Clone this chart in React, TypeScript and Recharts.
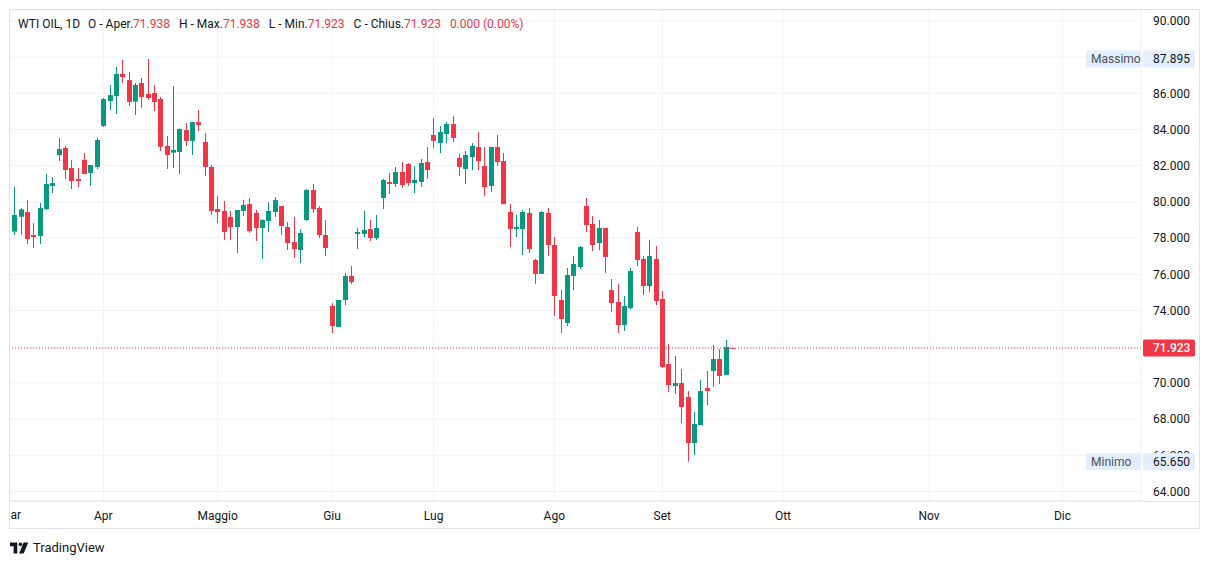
import { Bar, CartesianGrid, ComposedChart, ReferenceLine, XAxis, YAxis } from "recharts";

// WTI OIL, 1D — candele (mar–set)
const opens = [
  78.36, 79.18, 79.44, 78.17, 78.12, 79.61, 80.88, 82.59, 82.98, 81.87,
  81.26, 82.32, 81.6, 81.93, 84.19, 85.57, 85.85, 87.07, 86.73, 85.54,
  86.57, 85.96, 86.02, 85.69, 83.09, 82.72, 82.76, 83.97, 83.37, 84.41,
  83.31, 81.93, 79.61, 79.5, 79.17, 78.61, 79.5, 79.88, 79.39, 78.56,
  78.94, 79.44, 79.77, 78.61, 77.78, 77.34, 79.0, 80.66, 79.66, 78.17,
  74.25, 73.09, 74.58, 75.91, 78.23, 78.23, 78.5, 78.0, 80.22, 81.1,
  80.99, 81.65, 82.09, 81.04, 81.1, 82.2, 83.7, 83.25, 83.75, 84.3,
  82.43, 81.82, 82.48, 83.03, 81.98, 80.88, 83.03, 82.26, 79.44, 78.5,
  78.5, 79.39, 76.79, 76.02, 79.39, 77.62, 74.58, 73.31, 75.91, 76.4,
  79.77, 78.78, 77.73, 78.56, 75.13, 74.47, 73.2, 74.14, 78.34, 76.85,
  75.35, 76.85, 74.64, 71.04, 69.83, 69.99, 69.22, 66.68, 67.67, 69.72,
  70.66, 71.32, 70.44, 71.938,
];
const highs = [
  80.84, 79.66, 80.1, 78.83, 79.94, 81.54, 81.37, 83.53, 83.09, 82.32,
  81.87, 82.7, 82.04, 83.53, 85.74, 86.46, 87.45, 87.84, 87.18, 86.57,
  86.85, 87.895, 86.46, 85.8, 83.64, 86.4, 84.06, 84.36, 84.41, 85.08,
  83.81, 82.04, 80.33, 80.05, 79.5, 79.55, 80.1, 80.22, 79.55, 79.05,
  79.99, 80.27, 79.77, 78.89, 79.17, 78.5, 80.71, 80.99, 79.77, 79.0,
  74.41, 74.58, 76.07, 76.46, 78.56, 79.5, 79.0, 79.28, 81.27, 81.6,
  81.93, 82.2, 82.15, 81.98, 82.37, 83.03, 84.64, 84.19, 84.41, 84.75,
  82.65, 82.81, 83.25, 83.86, 83.03, 83.05, 83.7, 82.7, 79.88, 79.28,
  79.55, 79.66, 76.85, 79.5, 79.66, 78.06, 75.13, 76.35, 77.01, 77.56,
  80.22, 79.22, 79.0, 78.56, 75.74, 75.46, 74.8, 76.35, 78.61, 77.01,
  77.9, 77.56, 75.08, 72.15, 71.49, 70.77, 69.55, 68.39, 70.16, 70.66,
  72.09, 71.87, 72.37, 71.938,
];
const lows = [
  78.17, 78.17, 77.67, 77.45, 77.67, 79.55, 80.49, 82.26, 81.27, 80.71,
  80.82, 81.54, 80.88, 81.82, 84.14, 85.08, 84.86, 86.57, 85.3, 84.8,
  85.19, 85.63, 85.02, 82.81, 81.82, 81.87, 81.54, 83.09, 82.59, 83.92,
  81.43, 79.28, 78.83, 77.9, 77.9, 77.18, 79.22, 78.3, 77.84, 76.85,
  78.34, 79.17, 78.17, 77.34, 76.9, 76.62, 78.94, 79.39, 78.01, 77.01,
  72.76, 73.09, 74.3, 75.46, 77.4, 78.06, 77.84, 77.9, 79.61, 80.44,
  80.82, 80.77, 80.88, 80.49, 80.82, 81.27, 82.98, 82.7, 83.25, 83.31,
  81.43, 80.99, 81.76, 81.76, 80.33, 80.55, 81.98, 79.88, 77.51, 78.06,
  77.07, 77.18, 75.46, 76.02, 77.01, 73.7, 72.76, 73.14, 75.13, 76.29,
  78.34, 77.29, 77.34, 76.07, 73.92, 72.76, 72.87, 74.08, 76.46, 74.86,
  75.02, 74.3, 70.82, 69.5, 69.39, 67.78, 65.65, 66.02, 67.67, 68.78,
  69.77, 69.94, 70.44, 71.923,
];
const closes = [
  79.28, 79.59, 77.95, 78.06, 79.66, 80.99, 81.04, 82.92, 81.76, 81.15,
  81.15, 81.54, 82.04, 83.42, 85.68, 85.9, 87.07, 86.9, 85.52, 86.46,
  85.8, 85.74, 85.52, 83.05, 82.59, 82.87, 84.03, 83.37, 84.41, 84.25,
  81.93, 79.5, 79.44, 78.34, 78.61, 79.55, 79.83, 78.39, 78.56, 79.0,
  79.5, 80.1, 78.67, 77.73, 77.4, 78.28, 80.66, 79.61, 78.17, 77.45,
  73.14, 74.58, 75.91, 75.57, 78.34, 78.45, 78.0, 78.56, 81.21, 80.99,
  81.65, 80.93, 81.04, 81.21, 82.15, 81.76, 83.37, 83.86, 84.3, 83.53,
  81.93, 82.59, 83.09, 82.26, 80.82, 83.03, 82.2, 79.88, 78.5, 78.61,
  79.44, 77.4, 76.02, 79.44, 77.62, 74.8, 73.53, 75.96, 76.57, 77.51,
  78.72, 77.62, 78.56, 76.96, 74.41, 73.2, 74.25, 76.18, 76.79, 75.35,
  77.01, 74.52, 70.88, 69.88, 69.99, 68.67, 66.68, 67.73, 69.55, 69.55,
  71.32, 70.38, 71.98, 71.923,
];

// Etichette del tempo: indice della prima candela del mese (ott–dic proiettati)
const monthBars = [14, 32, 50, 66, 85, 102, 121, 144, 165];
const monthLabels = ["Apr", "Maggio", "Giu", "Lug", "Ago", "Set", "Ott", "Nov", "Dic"];
const priceTicks = [64, 66, 68, 70, 72, 74, 76, 78, 80, 82, 84, 86, 88, 90];

const symbol = "WTI OIL, 1D";
const changeText = "0.000 (0.00%)";

const UP = "#089981";
const DOWN = "#f23645";
const TEXT = "#131722";
const GRID = "#f0f3fa";
const BORDER = "#e0e3eb";
const TAG_BG = "#e3effd";
const FONT = "Roboto, 'Noto Sans', sans-serif";

const X_DOMAIN: [number, number] = [-0.693, 177.36];
const Y_DOMAIN: [number, number] = [63.475, 90.602];
const CHART_W = 1200;
const CHART_H = 529;
const MARGIN = { top: 10, right: 0, bottom: 0, left: 10 };

const rows = opens.map((o, i) => ({
  i,
  wick: [lows[i], highs[i]],
  body: [Math.min(o, closes[i]), Math.max(o, closes[i])],
  color: closes[i] < o ? DOWN : UP,
}));
const last = rows.length - 1;
const maxHigh = Math.max(...highs);
const minLow = Math.min(...lows);
const lastColor = rows[last].color;

const fmt = (v: number) => v.toFixed(3);
const monthName = (v: number) => monthLabels[monthBars.indexOf(v)] ?? "";

function Wick(props: any) {
  const { x, y, width, height, payload } = props;
  const cx = Math.floor(x + width / 2);
  return <rect x={cx} y={y} width={1} height={Math.max(height, 1)} fill={payload.color} />;
}

function Body(props: any) {
  const { x, y, width, height, payload } = props;
  const cx = Math.floor(x + width / 2);
  return <rect x={cx - 2} y={y} width={5} height={Math.max(height, 1)} fill={payload.color} />;
}

function Tag(props: any) {
  const { viewBox, text, caption, bg, fg, weight } = props;
  const right = viewBox.x + viewBox.width;
  const cy = viewBox.y;
  return (
    <g fontFamily={FONT} fontSize={12}>
      {caption ? (
        <>
          <rect x={right - 55} y={cy - 8.5} width={55} height={17} rx={2} fill={bg} />
          <text x={right - 50} y={cy} dy="0.355em" fill="#4c525e">{caption}</text>
        </>
      ) : null}
      <rect x={right + 2} y={cy - 8.5} width={52} height={17} rx={2} fill={bg} />
      <text x={right + 12} y={cy} dy="0.355em" fill={fg} fontWeight={weight}>{text}</text>
    </g>
  );
}

function Logo() {
  return (
    <svg width={20} height={12} viewBox="0 0 22 12">
      <path d="M0 0h8v12H4V4H0z" fill={TEXT} />
      <circle cx={11.5} cy={2} r={2} fill={TEXT} />
      <path d="M15 0h5l-5 12h-5z" fill={TEXT} />
    </svg>
  );
}

export default function App() {
  const hdr = [
    ["O - Aper.", opens[last]],
    ["H - Max.", highs[last]],
    ["L - Min.", lows[last]],
    ["C - Chius.", closes[last]],
  ] as const;
  return (
    <div style={{ position: "fixed", left: 0, top: 0, width: 1209, height: 564, background: "#fff", fontFamily: FONT }}>
      <ComposedChart
        width={CHART_W}
        height={CHART_H}
        data={rows}
        margin={MARGIN}
        style={{ position: "absolute", left: 0, top: 0 }}
      >
        <CartesianGrid stroke={GRID} xAxisId="t" />
        <XAxis
          xAxisId="t"
          type="number"
          dataKey="i"
          domain={X_DOMAIN}
          allowDataOverflow
          ticks={monthBars}
          interval={0}
          tickFormatter={monthName}
          height={28}
          tickLine={false}
          tickMargin={4}
          axisLine={{ stroke: BORDER }}
          tick={{ fill: TEXT, fontSize: 12, fontFamily: FONT }}
        />
        <XAxis xAxisId="u" type="number" dataKey="i" domain={X_DOMAIN} allowDataOverflow ticks={monthBars} height={0} hide />
        <YAxis
          orientation="right"
          domain={Y_DOMAIN}
          allowDataOverflow
          ticks={priceTicks}
          interval={0}
          tickFormatter={fmt}
          width={59}
          tickLine={false}
          tickMargin={6}
          axisLine={false}
          tick={{ fill: TEXT, fontSize: 12, fontFamily: FONT }}
        />
        <ReferenceLine xAxisId="t" y={closes[last]} stroke={lastColor} strokeDasharray="1 2" />
        <Bar xAxisId="t" dataKey="wick" barSize={1} shape={Wick} isAnimationActive={false} />
        <Bar xAxisId="u" dataKey="body" barSize={5} shape={Body} isAnimationActive={false} />
      </ComposedChart>

      {/* etichette di prezzo sopra la scala */}
      <ComposedChart
        width={CHART_W}
        height={CHART_H}
        data={rows}
        margin={{ ...MARGIN, right: 59, bottom: 28 }}
        style={{ position: "absolute", left: 0, top: 0 }}
      >
        <XAxis type="number" dataKey="i" domain={X_DOMAIN} allowDataOverflow height={0} hide />
        <YAxis domain={Y_DOMAIN} allowDataOverflow width={0} hide />
        <ReferenceLine
          y={closes[last]}
          stroke="none"
          label={(p: any) => <Tag {...p} text={fmt(closes[last])} bg={lastColor} fg="#fff" weight={500} />}
        />
        <ReferenceLine
          y={maxHigh}
          stroke="none"
          label={(p: any) => <Tag {...p} text={fmt(maxHigh)} caption="Massimo" bg={TAG_BG} fg={TEXT} />}
        />
        <ReferenceLine
          y={minLow}
          stroke="none"
          label={(p: any) => <Tag {...p} text={fmt(minLow)} caption="Minimo" bg={TAG_BG} fg={TEXT} />}
        />
      </ComposedChart>

      {/* cornice del widget */}
      <div style={{ position: "absolute", left: 9, top: 9, width: 1191, height: 520, boxSizing: "border-box", border: `1px solid ${BORDER}`, pointerEvents: "none" }} />
      <div style={{ position: "absolute", left: 1141, top: 501, width: 58, height: 1, background: BORDER }} />

      {/* "Mar" tagliato a sinistra */}
      <div style={{ position: "absolute", left: 10, top: 507, width: 12, height: 16, overflow: "hidden" }}>
        <span style={{ position: "absolute", left: -10, top: 1, fontSize: 12, color: TEXT, whiteSpace: "nowrap" }}>Mar</span>
      </div>

      {/* legenda OHLC */}
      <div style={{ position: "absolute", left: 18, top: 17, fontSize: 12, color: TEXT, whiteSpace: "nowrap" }}>
        <span style={{ marginRight: 8 }}>{symbol}</span>
        {hdr.map(([k, v]) => (
          <span key={k} style={{ marginRight: 9 }}>
            {k}
            <span style={{ color: lastColor }}>{fmt(v)}</span>
          </span>
        ))}
        <span style={{ color: lastColor }}>{changeText}</span>
      </div>

      {/* logo */}
      <div style={{ position: "absolute", left: 10, top: 540, display: "flex", alignItems: "center", gap: 3, color: TEXT, fontSize: 13 }}>
        <Logo />
        <span>TradingView</span>
      </div>
    </div>
  );
}
